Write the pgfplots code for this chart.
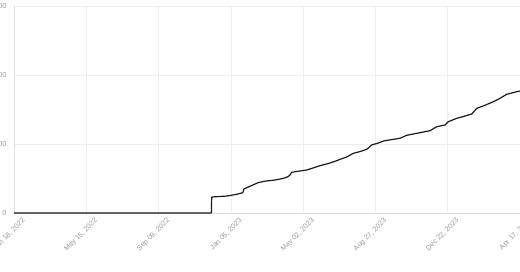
\documentclass[border=0pt]{standalone}
\usepackage{fontspec}
\setmainfont{Liberation Sans}
\usepackage{pgfplots}
\pgfplotsset{compat=1.18}
\definecolor{gridc}{HTML}{EEEEEE}
\definecolor{axc}{HTML}{DDDDDD}
\definecolor{labc}{HTML}{999999}
\definecolor{linec}{HTML}{1A1A1A}
\begin{document}
\begin{tikzpicture}[x=1pt,y=1pt]
\path[use as bounding box] (0,0) rectangle (520,272);
\begin{axis}[
  at={(14pt,59pt)}, anchor=south west,
  scale only axis, width=506pt, height=207pt,
  xmin=0, xmax=819, ymin=0, ymax=300,
  axis lines=left,
  axis line style={axc, line width=0.8pt, -},
  xtick={0,117,234,351,468,585,702,819},
  xticklabels={{Jan 18, 2022},{May 15, 2022},{Sep 09, 2022},{Jan 05, 2023},{May 02, 2023},{Aug 27, 2023},{Dec 22, 2023},{Apr 17, 2024}},
  ytick={0,100,200,300},
  major tick length=0pt,
  grid=major,
  major grid style={gridc, line width=0.6pt},
  /pgf/number format/assume math mode=true,
  tick label style={font=\fontsize{7.2}{8}\selectfont, text=labc},
  xticklabel style={rotate=45, anchor=north east, inner sep=0.5pt, yshift=-8pt, xshift=3pt},
  yticklabel style={anchor=east, xshift=-4pt},
  clip=false,
]
\addplot[linec, line width=1.2pt, line join=round] coordinates {
(0,0) (319.5,0) (320,23.2) (344.8,24.6) (360,27) (370.2,29.4) (372.3,34.8)
(380,38) (395,43.9) (405,46) (422.5,47.8) (435,50) (443.5,52.6) (446.7,55.1) (449.5,59.0)
(460,60.5) (473.8,62.3) (485,65.5) (495.3,68.6) (510,72) (522.3,75.8) (530,78.5)
(538.5,81.2) (549.2,86.5) (560,89) (570.9,92.3) (579,98.6) (590,101.5) (597.8,104.3)
(612,106.5) (624.8,108.3) (635.6,112.6) (655,116) (673.4,119.3) (684.2,125.1) (697.6,127.5)
(703,132.3) (716.6,137.2) (728,140) (740.9,143.5) (749,151.7) (762,156) (775.8,161.3)
(786.7,166.2) (797.5,172.0) (808,174.5) (819,176.8)
};
\end{axis}
\end{tikzpicture}
\end{document}
